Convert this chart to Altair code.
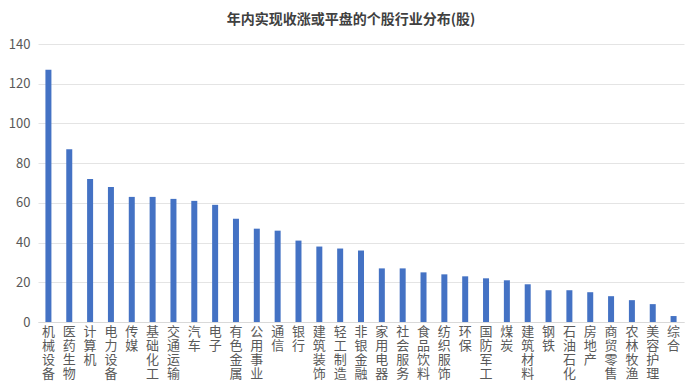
import altair as alt
import pandas as pd

industries = ["机械设备", "医药生物", "计算机", "电力设备", "传媒", "基础化工", "交通运输", "汽车",
              "电子", "有色金属", "公用事业", "通信", "银行", "建筑装饰", "轻工制造", "非银金融",
              "家用电器", "社会服务", "食品饮料", "纺织服饰", "环保", "国防军工", "煤炭", "建筑材料",
              "钢铁", "石油石化", "房地产", "商贸零售", "农林牧渔", "美容护理", "综合"]
counts = [127, 87, 72, 68, 63, 63, 62, 61, 59, 52, 47, 46, 41, 38, 37, 36,
          27, 27, 25, 24, 23, 22, 21, 19, 16, 16, 15, 13, 11, 9, 3]
y_ticks = [0, 20, 40, 60, 80, 100, 120, 140]

df = pd.DataFrame({"industry": industries, "count": counts})

font = "Noto Sans CJK SC"

chart = alt.Chart(df).mark_bar(size=6, color="#4472C4").encode(
    x=alt.X("industry:N", sort=industries, title=None,
            scale=alt.Scale(paddingInner=0, paddingOuter=0),
            axis=alt.Axis(labelAngle=0, labelExpr="split(datum.label, '')",
                          labelFont=font, labelFontSize=13, labelColor="#595959",
                          labelLineHeight=14, labelPadding=3, labelBaseline="top",
                          labelBound=False, labelOverlap=False,
                          ticks=False, domainColor="#d9d9d9", grid=False)),
    y=alt.Y("count:Q", title=None,
            scale=alt.Scale(domain=[0, 140]),
            axis=alt.Axis(values=y_ticks, labelFont=font, labelFontSize=13,
                          labelColor="#595959", labelPadding=8, ticks=False,
                          domain=False, gridColor="#e4e4e4")),
).properties(
    width=646, height=278,
    autosize=alt.AutoSizeParams(type="none"),
    padding={"left": 30, "top": 36, "right": 1, "bottom": 61},
    title=alt.TitleParams("年内实现收涨或平盘的个股行业分布(股)", font=font, fontSize=14,
                          fontWeight="bold", color="#404040", anchor="middle",
                          dx=-10, offset=11),
).configure_view(stroke=None)

chart.save("out.html", embed_options={"renderer": "svg", "actions": False})
